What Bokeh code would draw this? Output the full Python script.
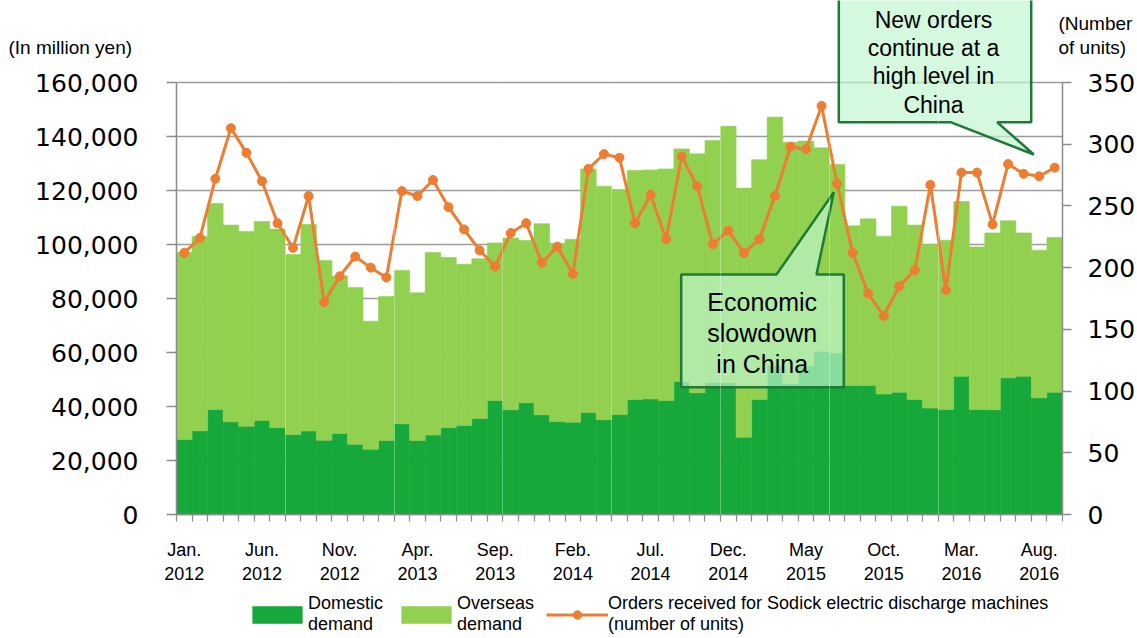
from bokeh.plotting import figure
from bokeh.models import (Range1d, LinearAxis, FixedTicker, NumeralTickFormatter, Legend,
                          LegendItem, Label, ColumnDataSource, Grid)
from bokeh.core.properties import value
from bokeh.embed import file_html
from bokeh.resources import INLINE

# ---------------- data ----------------
month_names = ["Jan.", "Feb.", "Mar.", "Apr.", "May", "Jun.", "Jul.", "Aug.", "Sep.", "Oct.", "Nov.", "Dec."]
n_months = 57  # Jan. 2012 .. Sep. 2016
label_every = 5

domestic = [27800, 31000, 38900, 34300, 32700, 34800, 32200, 29600, 30900, 27500,
            30000, 26000, 24200, 27400, 33600, 27400, 29400, 32200, 33000, 35600,
            42200, 38800, 41400, 36900, 34400, 34200, 37800, 35100, 37000, 42600,
            42800, 42200, 49300, 45100, 48900, 48800, 28600, 42600, 55200, 48600,
            55000, 60500, 59900, 47800, 47800, 44600, 45300, 42600, 39400, 38900,
            51200, 38900, 38800, 50600, 51200, 43200, 45300]
overseas = [69300, 72000, 76300, 72900, 72100, 73700, 73500, 66700, 76500, 66600,
            58300, 58100, 47400, 53300, 56800, 54700, 67600, 63000, 59700, 59100,
            58400, 63600, 60100, 70800, 66100, 67700, 90200, 86500, 83400, 84800,
            84800, 85800, 86100, 88500, 89600, 95000, 92300, 88800, 92000, 89300,
            83300, 75300, 69700, 59100, 61700, 58500, 68900, 64600, 60600, 62700,
            64700, 60200, 65500, 58200, 53100, 54700, 57300]
orders = [212, 224, 272, 313, 293, 270, 236, 216, 258, 172,
          193, 209, 200, 192, 262, 258, 271, 249, 231, 214,
          201, 228, 236, 204, 217, 195, 280, 292, 289, 236,
          259, 223, 290, 266, 219, 230, 212, 223, 258, 298,
          296, 331, 268, 212, 179, 161, 185, 198, 267, 182,
          277, 277, 235, 284, 276, 274, 281]

left_ticks = [0, 20000, 40000, 60000, 80000, 100000, 120000, 140000, 160000]
right_ticks = [0, 50, 100, 150, 200, 250, 300, 350]

# ---------------- derived ----------------
x = list(range(n_months))
labels = {}
for i in range(0, n_months, label_every):
    labels[i] = f"{month_names[i % 12]}\n{2012 + i // 12}"
total = [d + o for d, o in zip(domestic, overseas)]
src = ColumnDataSource(dict(x=x, dom=domestic, tot=total, orders=orders))

# ---------------- layout (pixels) ----------------
W, H = 1135, 636
PL, PR, PT, PB = 176, 1062, 82, 514          # plot-area edges on the canvas
bar_px = (PR - PL) / n_months
ppu_l = (PB - PT) / left_ticks[-1]
ppu_r = (PB - PT) / right_ticks[-1]

def dx(px):   # canvas x -> data x
    return -0.5 + (px - PL) / bar_px

def dy(py):   # canvas y -> left-axis data y
    return (PB - py) / ppu_l

p = figure(width=W, height=H, output_backend="svg", toolbar_location=None,
           x_range=Range1d(dx(0), dx(W)), y_range=Range1d(dy(H), dy(0)),
           min_border_left=0, min_border_right=0, min_border_top=0, min_border_bottom=0,
           outline_line_color=None, background_fill_color="white")
p.extra_y_ranges = {"units": Range1d(-(H - PB) / ppu_r, PB / ppu_r)}

AX = "#8c8c8c"
TICK_FONT = "DejaVu Sans"
ARIAL = "Liberation Sans"

# grids
p.xgrid.grid_line_color = None
p.ygrid.ticker = FixedTicker(ticks=left_ticks)
p.ygrid.grid_line_color = "#9c9c9c"
p.ygrid.grid_line_width = 1.3
p.ygrid.cross_bounds = (-0.5, n_months - 0.5)

tile = Grid(dimension=0, ticker=FixedTicker(ticks=[6.5, 13.5, 20.5, 27.5, 34.5, 41.5, 48.5]),
            grid_line_color="white", grid_line_alpha=0.3, grid_line_width=1, level="annotation",
            cross_bounds=(0, left_ticks[-1]))
p.add_layout(tile)

# left axis
ya = p.yaxis[0]
ya.fixed_location = -0.5
ya.ticker = FixedTicker(ticks=left_ticks)
ya.bounds = (0, left_ticks[-1])
ya.formatter = NumeralTickFormatter(format="0,0")
ya.axis_line_color = AX
ya.axis_line_width = 1.5
ya.major_tick_line_color = AX
ya.major_tick_line_width = 1.5
ya.major_tick_out = 10
ya.major_tick_in = 0
ya.minor_tick_line_color = None
ya.major_label_standoff = 28
ya.major_label_text_font = TICK_FONT
ya.major_label_text_font_size = "25px"
ya.major_label_text_color = "black"

# right axis
ra = LinearAxis(y_range_name="units", ticker=FixedTicker(ticks=right_ticks),
                bounds=(0, right_ticks[-1]), fixed_location=n_months - 0.5)
ra.axis_line_color = AX
ra.axis_line_width = 1.5
ra.major_tick_line_color = AX
ra.major_tick_line_width = 1.5
ra.major_tick_out = 9
ra.major_tick_in = 0
ra.minor_tick_line_color = None
ra.major_label_standoff = 16
ra.major_label_text_font = TICK_FONT
ra.major_label_text_font_size = "25px"
ra.major_label_text_color = "black"
p.add_layout(ra, "right")

# bottom axis
xa = p.xaxis[0]
xa.fixed_location = 0
xa.bounds = (-0.5, n_months - 0.5)
xa.ticker = FixedTicker(ticks=list(labels.keys()),
                        minor_ticks=[i - 0.5 for i in range(n_months + 1)])
xa.major_label_overrides = labels
xa.axis_line_color = AX
xa.axis_line_width = 1.5
xa.major_tick_line_color = None
xa.major_tick_out = 0
xa.major_tick_in = 0
xa.minor_tick_line_color = AX
xa.minor_tick_line_width = 1.2
xa.minor_tick_out = 7
xa.minor_tick_in = 0
xa.major_label_standoff = 18
xa.major_label_text_font = ARIAL
xa.major_label_text_font_size = "18px"
xa.major_label_text_line_height = 1.24
xa.major_label_text_color = "black"

# bars
DOM_C = "#16a83a"
OVS_C = "#92d050"
r_dom = p.vbar(x="x", width=1.0, bottom=0, top="dom", source=src,
               fill_color=DOM_C, line_color=DOM_C, line_width=0.6)
r_ovs = p.vbar(x="x", width=1.0, bottom="dom", top="tot", source=src,
               fill_color=OVS_C, line_color=OVS_C, line_width=0.6)

# orders line
ORANGE = "#ed7d31"
r_line = p.line("x", "orders", source=src, y_range_name="units", line_color=ORANGE, line_width=3)
r_pts = p.scatter("x", "orders", source=src, y_range_name="units", marker="circle", size=9,
                  fill_color=ORANGE, line_color=ORANGE)

# callouts
BOX_FILL = "#c1f6ce"
BOX_LINE = "#1f7a35"

def callout(x0, x1, yt, yb, tail_l, tail_r, tip, tail_side):
    X0, X1, YT, YB = dx(x0), dx(x1), dy(yt), dy(yb)
    TL, TR, TX, TY = dx(tail_l), dx(tail_r), dx(tip[0]), dy(tip[1])
    if tail_side == "top":
        xs = [X0, TL, TX, TR, X1, X1, X0]
        ys = [YT, YT, TY, YT, YT, YB, YB]
    else:
        xs = [X0, X1, X1, TR, TX, TL, X0]
        ys = [YT, YT, YB, YB, TY, YB, YB]
    p.patch(xs, ys, fill_color=BOX_FILL, fill_alpha=0.67, line_color=BOX_LINE, line_width=2.5)

callout(680.7, 843.3, 274, 386.7, 776, 816, (833.3, 191.7), "top")
callout(838.3, 1030.7, -10, 121.7, 950, 996.7, (1033.3, 154), "bottom")

p.text(x=[dx(761.7)] * 3, y=[dy(301.7), dy(332.7), dy(363.3)],
       text=["Economic", "slowdown", "in China"],
       text_align="center", text_baseline="middle", text_font=value(ARIAL),
       text_font_size="25px", text_color="black")
p.text(x=[dx(933)] * 4, y=[dy(19), dy(47), dy(75), dy(104)],
       text=["New orders", "continue at a", "high level in", "China"],
       text_align="center", text_baseline="middle", text_font=value(ARIAL),
       text_font_size="23px", text_color="black")

# axis unit labels
p.add_layout(Label(x=dx(8), y=dy(47), text="(In million yen)", text_color="black",
                   text_font=ARIAL, text_font_size="19px", text_baseline="middle", text_align="left"))
p.add_layout(Label(x=dx(1058), y=dy(23), text="(Number", text_color="black",
                   text_font=ARIAL, text_font_size="19px", text_baseline="middle"))
p.add_layout(Label(x=dx(1058), y=dy(47), text="of units)", text_color="black",
                   text_font=ARIAL, text_font_size="19px", text_baseline="middle"))

# legend
legend = Legend(items=[
    LegendItem(label="Domestic\ndemand", renderers=[r_dom]),
    LegendItem(label="Overseas\ndemand", renderers=[r_ovs]),
    LegendItem(label="Orders received for Sodick electric discharge machines\n(number of units)",
               renderers=[r_line, r_pts]),
], orientation="horizontal", location=(246, 1))
legend.border_line_color = None
legend.background_fill_alpha = 0
legend.padding = 0
legend.margin = 0
legend.spacing = 12
legend.label_standoff = 0
legend.glyph_width = 62
legend.glyph_height = 21
legend.label_text_font = ARIAL
legend.label_text_font_size = "18px"
legend.label_text_color = "black"
p.add_layout(legend)

open("out.html", "w").write(file_html(p, INLINE))
